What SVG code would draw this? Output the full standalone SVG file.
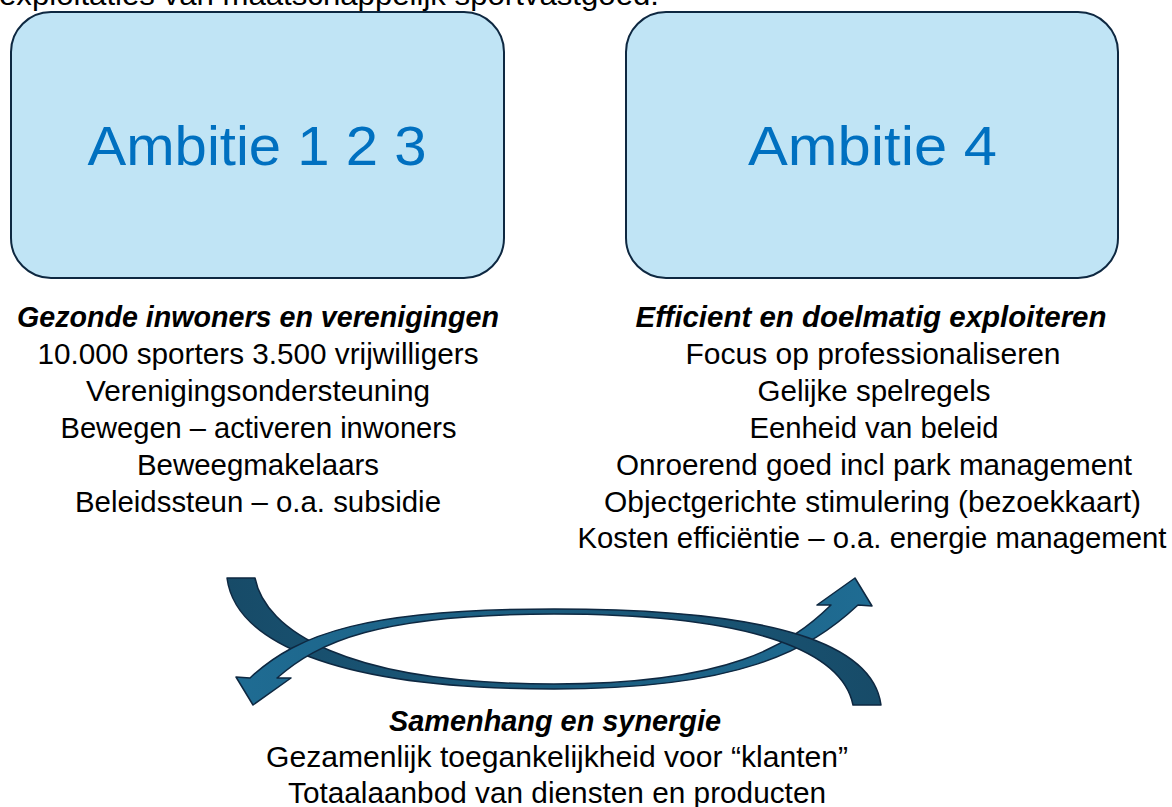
<svg xmlns="http://www.w3.org/2000/svg" width="1172" height="807" viewBox="0 0 1172 807">
<style>
.t{font-family:"Liberation Sans",Arial,sans-serif;font-size:29px;fill:#000;text-anchor:middle}
.h{font-weight:bold;font-style:italic}
.box{fill:#C0E4F5;stroke:#0E2841;stroke-width:2}
.amb{font-family:"Liberation Sans",Arial,sans-serif;font-size:56px;fill:#0070C0;text-anchor:middle}
.arr{stroke:#0E2841;stroke-width:1.5;stroke-linejoin:round}
</style>
<defs>
<linearGradient id="gS" x1="0" y1="0" x2="1" y2="0">
<stop offset="0" stop-color="#174B68"/><stop offset="1" stop-color="#1F6C93"/>
</linearGradient>
<linearGradient id="gF" x1="1" y1="0" x2="0" y2="0">
<stop offset="0" stop-color="#174B68"/><stop offset="1" stop-color="#1F6C93"/>
</linearGradient>
</defs>
<rect width="1172" height="807" fill="#fff"/>
<text class="t" x="-1" y="5" style="text-anchor:start" textLength="660" lengthAdjust="spacingAndGlyphs">exploitaties van maatschappelijk sportvastgoed.</text>
<g id="ambitie123">
<rect class="box" x="11" y="12" width="493" height="266" rx="40"/>
<text class="amb" x="257" y="165" textLength="339" lengthAdjust="spacingAndGlyphs">Ambitie 1 2 3</text>
</g>
<g id="ambitie4">
<rect class="box" x="626" y="12" width="492" height="266" rx="40"/>
<text class="amb" x="872.5" y="165" textLength="249" lengthAdjust="spacingAndGlyphs">Ambitie 4</text>
</g>
<g id="tekst-links">
<text class="t h" x="258" y="327" textLength="482" lengthAdjust="spacingAndGlyphs">Gezonde inwoners en verenigingen</text>
<text class="t" x="258" y="364" textLength="441" lengthAdjust="spacingAndGlyphs">10.000 sporters 3.500 vrijwilligers</text>
<text class="t" x="258" y="401" textLength="344" lengthAdjust="spacingAndGlyphs">Verenigingsondersteuning</text>
<text class="t" x="258.5" y="438" textLength="396" lengthAdjust="spacingAndGlyphs">Bewegen – activeren inwoners</text>
<text class="t" x="258" y="475" textLength="242" lengthAdjust="spacingAndGlyphs">Beweegmakelaars</text>
<text class="t" x="258" y="512" textLength="366" lengthAdjust="spacingAndGlyphs">Beleidssteun – o.a. subsidie</text>
</g>
<g id="tekst-rechts">
<text class="t h" x="871" y="327" textLength="471" lengthAdjust="spacingAndGlyphs">Efficient en doelmatig exploiteren</text>
<text class="t" x="873" y="364" textLength="375" lengthAdjust="spacingAndGlyphs">Focus op professionaliseren</text>
<text class="t" x="874" y="401" textLength="233" lengthAdjust="spacingAndGlyphs">Gelijke spelregels</text>
<text class="t" x="874" y="438" textLength="249" lengthAdjust="spacingAndGlyphs">Eenheid van beleid</text>
<text class="t" x="874" y="475" textLength="516" lengthAdjust="spacingAndGlyphs">Onroerend goed incl park management</text>
<text class="t" x="872.5" y="512" textLength="537" lengthAdjust="spacingAndGlyphs">Objectgerichte stimulering (bezoekkaart)</text>
<text class="t" x="872" y="548" textLength="589" lengthAdjust="spacingAndGlyphs">Kosten efficiëntie – o.a. energie management</text>
</g>
<g id="connectors">
<path class="arr" fill="url(#gS)" d="M227,578 C235,640 330,689 554,689 C740,689 810,650 858,605 L872,606 L855,578 L817,605 L831,605 C790,645 730,684 554,684 C345,684 265,630 255,578 Z"/>
<path class="arr" fill="url(#gF)" d="M881,705 C873,645 778,609 554,609 C368,609 298,633 250,678 L236,677 L253,705 L291,678 L277,678 C318,642 378,614 554,614 C763,614 843,655 853,705 Z"/>
</g>
<g id="tekst-onder">
<text class="t h" x="555" y="731" textLength="332" lengthAdjust="spacingAndGlyphs">Samenhang en synergie</text>
<text class="t" x="557" y="767" textLength="582" lengthAdjust="spacingAndGlyphs">Gezamenlijk toegankelijkheid voor “klanten”</text>
<text class="t" x="557" y="803" textLength="538" lengthAdjust="spacingAndGlyphs">Totaalaanbod van diensten en producten</text>
</g>
</svg>
